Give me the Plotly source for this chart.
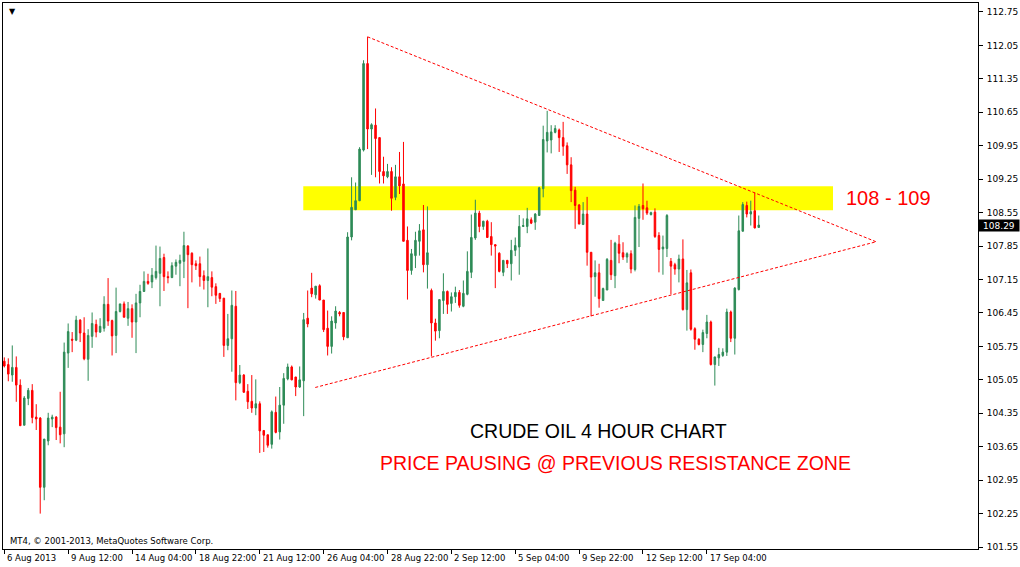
import plotly.graph_objects as go

# 4H candles (oldest first)
opens = [105.44, 105.37, 105.15, 105.31, 104.94, 104.10, 104.66, 104.83, 104.27, 104.25,
         102.80, 103.77, 104.23, 104.27, 104.06, 103.92, 105.61, 105.90, 105.88, 106.30,
         106.03, 105.48, 105.96, 106.21, 106.05, 106.13, 106.63, 106.29, 105.98, 106.48,
         106.64, 106.34, 106.54, 106.26, 106.66, 106.90, 107.11, 107.10, 107.19, 107.28,
         107.61, 107.21, 107.19, 107.43, 107.49, 107.53, 107.85, 107.70, 107.48, 107.48,
         107.23, 107.13, 107.19, 107.00, 106.86, 106.76, 105.77, 105.91, 106.59, 104.99,
         105.15, 104.81, 104.60, 104.46, 104.55, 103.99, 103.90, 103.70, 104.37, 103.96,
         104.52, 105.07, 105.32, 105.11, 104.90, 105.03, 106.34, 106.97, 106.83, 107.02,
         106.72, 106.13, 105.75, 106.24, 106.46, 106.46, 105.93, 108.04, 108.61, 108.80,
         109.86, 111.67, 110.30, 110.38, 110.12, 109.41, 109.30, 109.41, 108.87, 109.30,
         109.15, 107.97, 107.34, 107.65, 107.95, 108.19, 107.46, 106.92, 106.24, 106.08,
         106.71, 106.90, 106.65, 106.79, 106.88, 106.59, 106.84, 107.30, 108.02, 108.54,
         108.26, 108.37, 108.05, 107.88, 107.70, 107.30, 107.55, 107.48, 107.76, 107.83,
         108.26, 108.26, 108.40, 108.35, 108.49, 109.05, 110.05, 110.07, 110.23, 110.28,
         110.12, 109.95, 109.55, 109.02, 108.71, 108.30, 108.52, 107.72, 107.21, 107.29,
         106.71, 106.93, 107.55, 107.23, 107.89, 107.71, 107.62, 107.69, 107.36, 108.43,
         108.70, 108.65, 108.51, 108.56, 108.07, 107.79, 107.80, 107.53, 107.46, 107.37,
         107.58, 106.52, 107.29, 106.12, 105.90, 105.79, 106.02, 106.26, 105.37, 105.51,
         105.56, 105.63, 106.47, 105.92, 106.94, 108.16, 108.70, 108.52, 108.59, 108.24]
highs = [105.52, 105.50, 105.77, 105.54, 105.06, 104.71, 104.88, 104.96, 104.54, 104.27,
         103.81, 104.36, 104.32, 104.29, 104.80, 105.83, 106.23, 106.05, 106.39, 106.32,
         106.36, 106.11, 106.46, 106.31, 106.34, 106.80, 107.18, 106.31, 106.98, 106.64,
         106.69, 106.68, 106.63, 106.85, 107.04, 107.32, 107.27, 107.39, 107.86, 107.84,
         107.69, 107.32, 107.51, 107.57, 107.67, 108.15, 107.87, 107.72, 107.55, 107.63,
         107.34, 107.80, 107.32, 107.07, 106.86, 106.76, 106.43, 106.92, 106.91, 105.36,
         105.17, 104.96, 105.15, 105.06, 104.60, 103.99, 103.90, 104.41, 104.70, 104.90,
         105.19, 105.39, 105.35, 105.11, 105.33, 106.45, 106.92, 107.29, 107.01, 107.05,
         106.72, 106.50, 106.38, 106.59, 106.49, 106.46, 108.14, 109.29, 109.18, 109.92,
         111.74, 112.23, 110.42, 110.73, 110.12, 109.72, 109.57, 109.50, 109.55, 109.82,
         110.03, 108.26, 107.79, 108.15, 108.31, 108.71, 108.68, 106.96, 106.33, 106.73,
         107.28, 106.92, 106.88, 107.00, 106.93, 107.13, 107.74, 108.51, 108.82, 108.59,
         108.38, 108.40, 108.35, 107.88, 107.72, 107.56, 107.56, 107.98, 108.03, 108.50,
         108.43, 108.65, 108.45, 108.54, 109.09, 110.37, 110.68, 110.38, 110.38, 110.31,
         110.45, 110.02, 109.71, 109.09, 108.73, 108.77, 108.88, 107.72, 107.55, 107.48,
         106.98, 107.60, 107.98, 107.94, 108.08, 107.93, 107.72, 107.76, 108.70, 108.73,
         109.16, 108.80, 108.57, 108.64, 108.14, 108.07, 108.52, 107.60, 107.50, 107.67,
         107.99, 107.35, 107.36, 106.15, 105.92, 106.10, 106.41, 106.29, 105.53, 105.72,
         105.71, 106.54, 106.50, 106.99, 108.49, 108.77, 108.78, 108.80, 108.97, 108.49]
lows = [105.31, 105.02, 105.01, 104.59, 104.09, 104.10, 104.52, 104.14, 104.00, 102.25,
        102.53, 103.68, 104.06, 103.79, 103.72, 103.64, 105.30, 105.63, 105.86, 105.84,
        105.46, 105.03, 105.72, 105.94, 106.03, 106.06, 106.18, 105.56, 105.61, 106.46,
        106.36, 106.18, 105.93, 105.61, 106.36, 106.89, 107.04, 106.97, 107.15, 106.59,
        106.91, 107.07, 107.18, 107.25, 107.01, 107.18, 106.55, 107.09, 107.35, 107.00,
        106.94, 106.57, 106.80, 106.64, 106.68, 105.53, 105.67, 105.22, 104.62, 104.96,
        104.78, 104.44, 104.36, 104.31, 103.52, 103.54, 103.63, 103.61, 103.93, 103.80,
        104.13, 105.04, 105.04, 104.71, 104.88, 104.29, 106.15, 106.78, 106.75, 106.72,
        106.05, 105.56, 105.60, 106.12, 106.38, 105.88, 105.93, 107.97, 108.61, 108.79,
        109.83, 109.88, 109.34, 109.29, 109.16, 109.16, 109.27, 108.59, 108.81, 108.94,
        107.95, 106.73, 107.25, 107.39, 107.65, 107.30, 106.96, 105.54, 105.87, 105.92,
        106.43, 106.43, 106.48, 106.66, 106.56, 106.57, 106.82, 107.18, 107.98, 108.14,
        108.19, 108.02, 107.65, 106.97, 107.30, 107.22, 107.39, 107.13, 107.64, 107.25,
        108.26, 108.12, 108.31, 108.19, 108.49, 108.87, 109.81, 109.79, 110.21, 109.82,
        109.74, 109.36, 108.77, 108.21, 108.31, 108.30, 107.44, 106.38, 106.79, 106.56,
        106.71, 106.93, 107.14, 106.97, 107.49, 107.56, 107.50, 107.28, 107.32, 107.83,
        108.40, 108.50, 108.49, 108.02, 107.30, 107.25, 107.62, 106.84, 107.25, 107.09,
        106.50, 106.08, 106.08, 105.68, 105.77, 105.63, 105.92, 105.35, 104.93, 105.34,
        105.53, 105.55, 105.84, 105.58, 106.92, 108.16, 108.45, 108.28, 108.22, 108.24]
closes = [105.34, 105.17, 105.31, 104.94, 104.09, 104.67, 104.83, 104.26, 104.23, 102.80,
          103.81, 104.25, 104.27, 104.05, 103.90, 105.63, 106.06, 105.88, 106.30, 106.03,
          105.49, 105.98, 106.23, 106.05, 106.17, 106.63, 106.28, 105.97, 106.48, 106.64,
          106.36, 106.54, 106.26, 106.66, 106.90, 107.11, 107.07, 107.24, 107.32, 107.59,
          107.21, 107.19, 107.44, 107.51, 107.55, 107.86, 107.67, 107.46, 107.44, 107.21,
          107.13, 107.21, 106.99, 106.82, 106.75, 105.77, 105.91, 106.61, 104.99, 105.15,
          104.79, 104.59, 104.46, 104.55, 103.98, 103.89, 103.68, 104.38, 103.95, 104.52,
          105.08, 105.32, 105.05, 104.90, 105.05, 106.31, 106.22, 106.85, 107.01, 106.72,
          106.10, 105.75, 106.28, 106.49, 106.43, 105.95, 108.04, 108.66, 108.80, 109.88,
          111.67, 110.30, 110.39, 110.10, 109.41, 109.32, 109.41, 108.85, 109.30, 109.11,
          107.95, 107.34, 107.69, 107.97, 108.17, 107.46, 107.71, 106.24, 106.07, 106.73,
          106.90, 106.63, 106.79, 106.88, 106.61, 106.86, 107.32, 108.03, 108.54, 108.26,
          108.37, 108.03, 107.88, 107.85, 107.32, 107.55, 107.48, 107.76, 107.86, 108.26,
          108.28, 108.42, 108.33, 108.52, 109.07, 110.08, 110.23, 110.24, 110.31, 110.12,
          109.94, 109.55, 109.01, 108.70, 108.31, 108.52, 107.72, 107.20, 107.29, 106.75,
          106.96, 107.57, 107.25, 107.91, 107.70, 107.62, 107.69, 107.37, 108.45, 108.68,
          108.63, 108.54, 108.55, 108.05, 107.78, 107.83, 108.49, 107.43, 107.37, 107.58,
          106.52, 107.08, 106.11, 105.90, 105.79, 106.04, 106.26, 105.37, 105.53, 105.58,
          105.63, 106.47, 105.92, 106.97, 108.17, 108.72, 108.52, 108.57, 108.23, 108.29]

bar_index = list(range(len(opens)))

# time axis labels (bar number where each label sits)
date_bars = [0, 16, 32, 48, 64, 80, 96, 112, 128, 144, 160, 176]
date_labels = ["6 Aug 2013", "9 Aug 12:00", "14 Aug 04:00", "18 Aug 22:00",
               "21 Aug 12:00", "26 Aug 04:00", "28 Aug 22:00", "2 Sep 12:00",
               "5 Sep 04:00", "9 Sep 22:00", "12 Sep 12:00", "17 Sep 04:00"]

price_ticks = [101.55, 102.25, 102.95, 103.65, 104.35, 105.05, 105.75, 106.45, 107.15,
               107.85, 108.55, 109.25, 109.95, 110.65, 111.35, 112.05, 112.75]

# triangle trendlines drawn on the chart
upper_line_x = [91, 218.4]
upper_line_y = [112.23, 107.94]
lower_line_x = [77.9, 218.4]
lower_line_y = [104.89, 107.94]

# resistance zone
zone_x = [74.9, 207.6]
zone_y = [108.60, 109.10]

GREEN = "#2E8B57"
RED = "#FF0000"
SMALL = "DejaVu Sans"
BIG = "Liberation Sans, Arial"

fig = go.Figure()

fig.add_shape(type="rect", x0=zone_x[0], x1=zone_x[1], y0=zone_y[0], y1=zone_y[1],
              fillcolor="#FFFF00", line_width=0, layer="below")

fig.add_trace(go.Candlestick(
    x=bar_index, open=opens, high=highs, low=lows, close=closes,
    increasing=dict(line=dict(color=GREEN, width=1), fillcolor=GREEN),
    decreasing=dict(line=dict(color=RED, width=1), fillcolor=RED),
    showlegend=False,
))

for lx, ly in [(upper_line_x, upper_line_y), (lower_line_x, lower_line_y)]:
    fig.add_trace(go.Scatter(x=lx, y=ly, mode="lines", showlegend=False,
                             line=dict(color=RED, width=1, dash="3px,2px")))

# text on chart
fig.add_annotation(x=210.4, y=108.86, text="108 - 109", showarrow=False,
                   xanchor="left", yanchor="middle",
                   font=dict(family=BIG, size=20, color=RED))
fig.add_annotation(x=148.8, y=103.97, text="CRUDE OIL 4 HOUR CHART", showarrow=False,
                   xanchor="center", yanchor="middle",
                   font=dict(family=BIG, size=19.5, color="black"))
fig.add_annotation(x=153.0, y=103.31, text="PRICE PAUSING @ PREVIOUS RESISTANCE ZONE",
                   showarrow=False, xanchor="center", yanchor="middle",
                   font=dict(family=BIG, size=19.5, color=RED))
fig.add_annotation(x=0.005, y=0.015, xref="paper", yref="paper",
                   text="MT4, \u00a9 2001-2013, MetaQuotes Software Corp.", showarrow=False,
                   xanchor="left", yanchor="middle",
                   font=dict(family=SMALL, size=8.5, color="black"))
fig.add_annotation(x=0.004, y=0.985, xref="paper", yref="paper", text="\u25bc",
                   showarrow=False, xanchor="left", yanchor="middle",
                   font=dict(family=SMALL, size=8, color="black"))

# date labels, left aligned after each tick like MT4
for b, lab in zip(date_bars, date_labels):
    fig.add_annotation(x=b, y=0, xref="x", yref="paper", text=lab, showarrow=False,
                       xanchor="left", yanchor="top", xshift=1, yshift=-2,
                       font=dict(family=SMALL, size=8.5, color="black"))

# current price box
fig.add_annotation(x=1, y=closes[-1], xref="paper", yref="y", text=f"{closes[-1]:.2f}",
                   showarrow=False, xanchor="left", yanchor="middle",
                   bgcolor="black", width=40, height=11, borderpad=0,
                   font=dict(family=SMALL, size=9, color="white"))

fig.update_layout(
    width=1020, height=567,
    margin=dict(l=2, r=41, t=2, b=18),
    paper_bgcolor="white", plot_bgcolor="white",
    boxgap=0.45,
    xaxis=dict(range=[-0.325, 243.925], showgrid=False, zeroline=False,
               rangeslider=dict(visible=False),
               showline=True, mirror=True, linecolor="black", linewidth=1,
               tickmode="array", tickvals=date_bars, showticklabels=False,
               ticks="outside", ticklen=4, tickcolor="black"),
    yaxis=dict(range=[101.509, 112.938], side="right", showgrid=False, zeroline=False,
               showline=True, mirror=True, linecolor="black", linewidth=1,
               tickmode="array", tickvals=price_ticks, tickformat=".2f",
               ticks="outside", ticklen=4, tickcolor="black", ticklabelstandoff=2,
               tickfont=dict(family=SMALL, size=9, color="black")),
)

# page body has an 8px default margin; drop it so the figure sits at the window corner
fig.write_html("out.html", config={"displayModeBar": False},
               post_script="document.body.style.margin='0px';")
